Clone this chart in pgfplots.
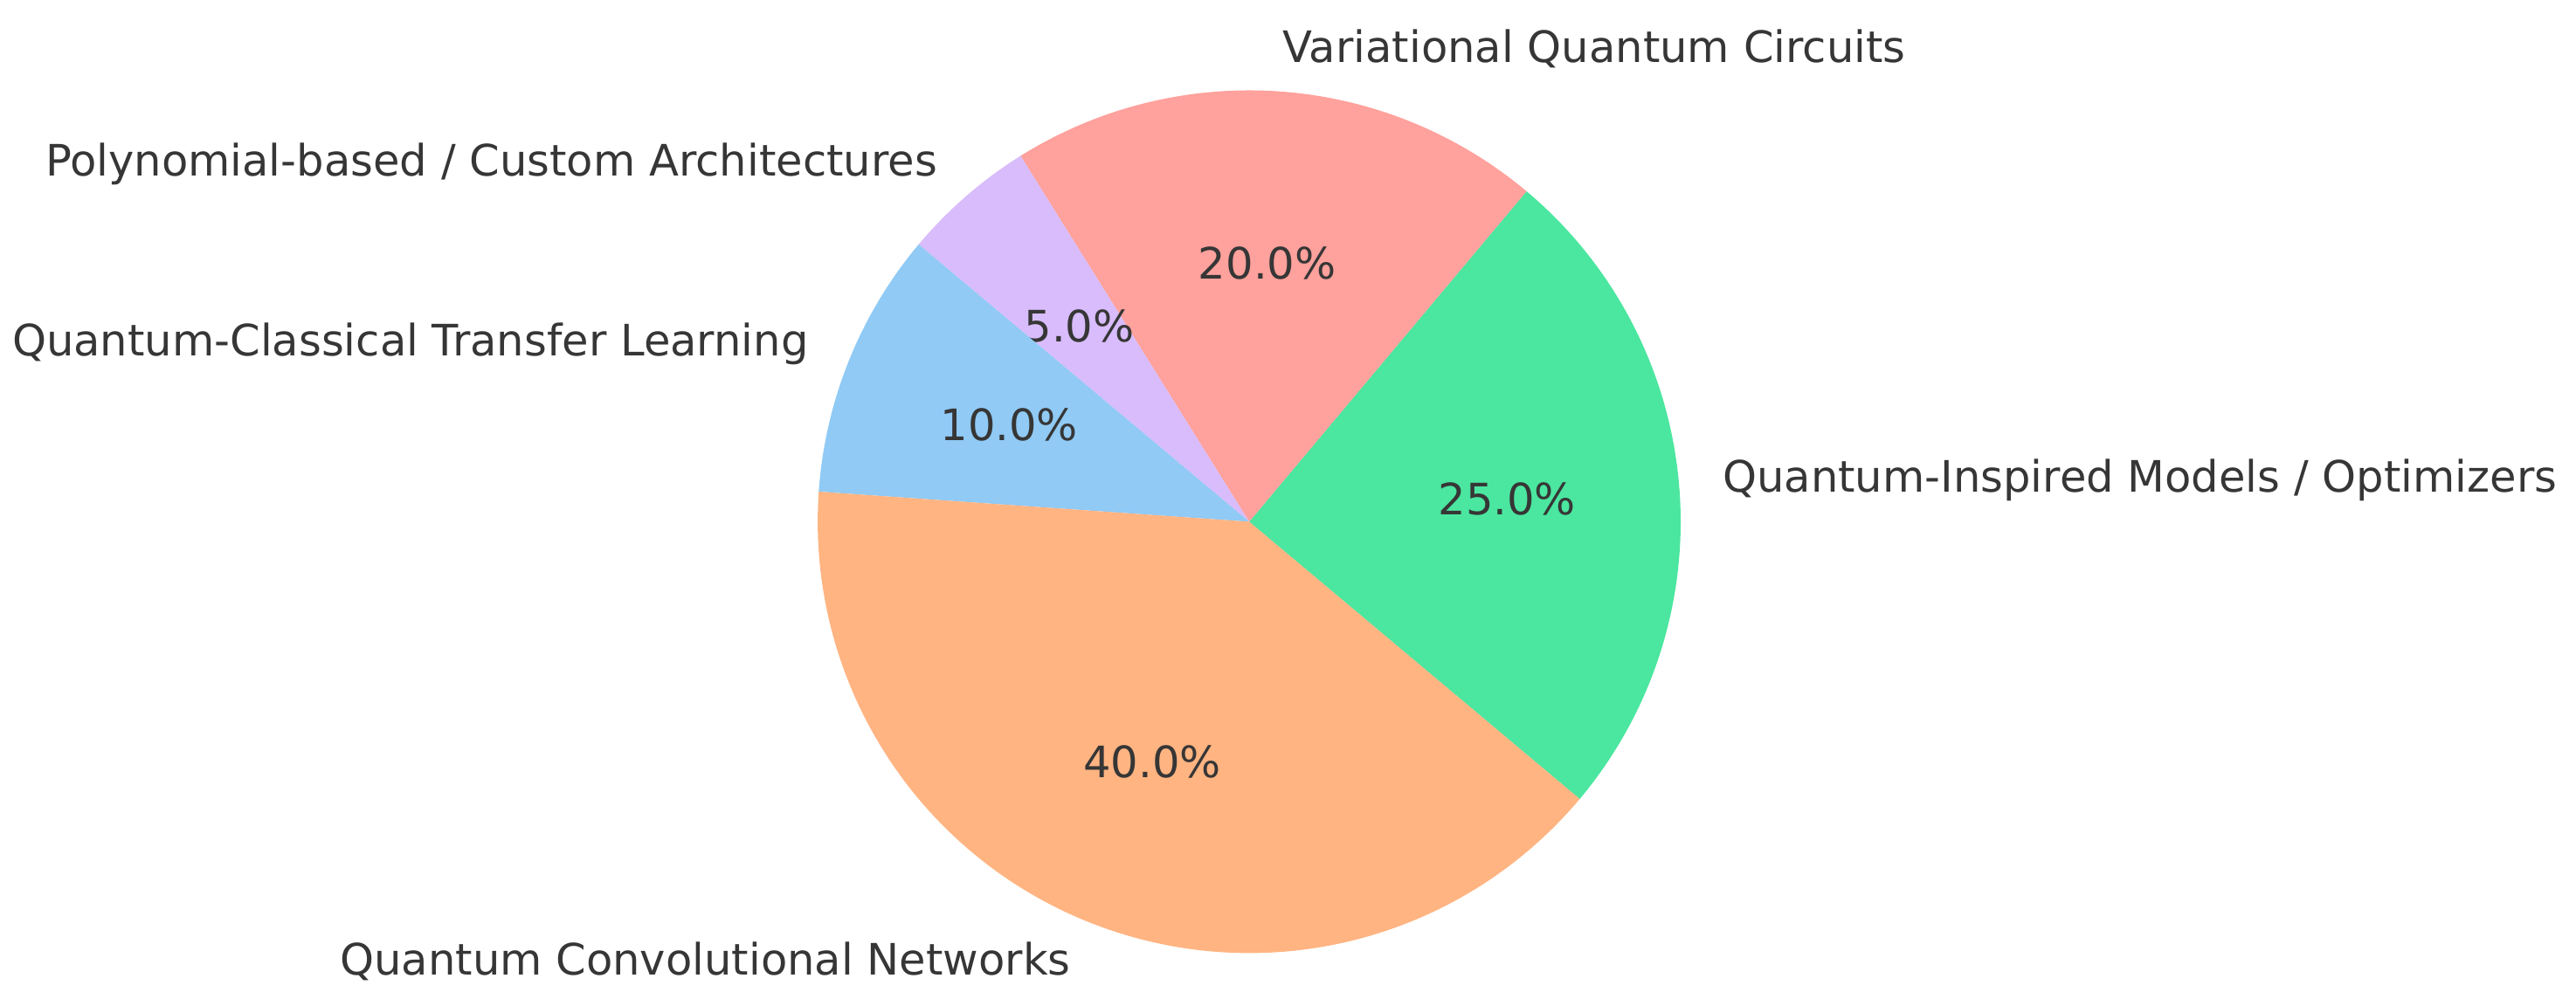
\documentclass[border=0pt]{standalone}
\usepackage{fontspec}
\setmainfont{DejaVu Sans}
\usepackage{pgfplots}
\pgfplotsset{compat=1.18}

\definecolor{cgreen}{HTML}{4BE69F}
\definecolor{cpink}{HTML}{FFA19C}
\definecolor{cpurple}{HTML}{D8BCFB}
\definecolor{cblue}{HTML}{90CAF5}
\definecolor{corange}{HTML}{FFB482}
\definecolor{ctext}{HTML}{363636}

% start angle of the first wedge, counterclockwise from there
\def\cumangle{-40}

% #1 share in percent, #2 colour, #3 label, #4 anchor of the label
\newcommand\slice[4]{%
  \pgfmathsetmacro\angA{\cumangle}%
  \pgfmathsetmacro\angB{\cumangle+3.6*#1}%
  \pgfmathsetmacro\angM{(\angA+\angB)/2}%
  \edef\doslice{%
    \noexpand\addplot[fill=#2, draw=none, domain=\angA:\angB, samples=120, variable=\noexpand\t]
      ({cos(\noexpand\t)},{sin(\noexpand\t)}) -- (axis cs:0,0) -- cycle;
    \noexpand\node[anchor=center] at (axis cs:{0.6*cos(\angM)},{0.6*sin(\angM)}) {#1.0\noexpand\%};
    \noexpand\node[anchor=#4] at (axis cs:{1.1*cos(\angM)},{1.1*sin(\angM)}) {#3};
  }%
  \doslice
  \global\let\cumangle\angB
}

\begin{document}
\begin{tikzpicture}[font=\fontsize{12.4}{14}\selectfont, every node/.style={text=ctext, inner sep=0pt}]
\begin{axis}[
    x=123.5pt, y=123.5pt,
    xmin=-2.895, xmax=3.075,
    ymin=-1.1063, ymax=1.2095,
    hide axis, clip=false,
]
\draw[draw=none] (rel axis cs:0,0) rectangle (rel axis cs:1,1);

\slice{25}{cgreen}{Quantum-Inspired Models / Optimizers}{west}
\slice{20}{cpink}{Variational Quantum Circuits}{west}
\slice{5}{cpurple}{Polynomial-based / Custom Architectures}{east}
\slice{10}{cblue}{Quantum-Classical Transfer Learning}{east}
\slice{40}{corange}{Quantum Convolutional Networks}{east}

\end{axis}
\end{tikzpicture}
\end{document}
